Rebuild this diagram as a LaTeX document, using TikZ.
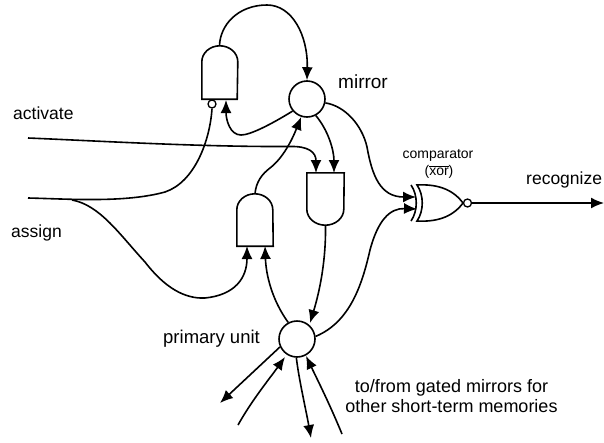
\documentclass[tikz,border=0pt]{standalone}
\usepackage{fontspec}
\setmainfont{Liberation Sans}
\usetikzlibrary{arrows.meta}
\newcommand{\andgate}[1]{%
    \draw[gateline] (#1.south west) -- ([yshift=-16pt]#1.north west)
        arc[start angle=180, end angle=0, x radius=18pt, y radius=16pt] -- (#1.south east) -- cycle;}
\newcommand{\andgatedown}[1]{%
    \draw[gateline] (#1.north west) -- ([yshift=16pt]#1.south west)
        arc[start angle=180, end angle=360, x radius=18.5pt, y radius=16pt] -- (#1.north east) -- cycle;}
\begin{document}
\begin{tikzpicture}[x=1pt, y=-1pt,
    gateline/.style={line width=1.6pt},
    wire/.style={line width=1.6pt},
    arrowwire/.style={wire, -{Latex[length=13pt,width=11pt]}},
    unit/.style={circle, draw, line width=1.6pt, minimum size=36pt, inner sep=0pt},
    bubble/.style={circle, draw, line width=1.3pt, minimum size=8pt, inner sep=0pt},
    gatebox/.style={rectangle, minimum width=#1, inner sep=0pt},
    label/.style={font=\fontsize{17.5}{20}\selectfont, inner sep=0pt},
    smalllabel/.style={font=\fontsize{14}{15}\selectfont, inner sep=0pt}]
    \useasboundingbox (0,0) rectangle (604,442);
    % units
    \node[unit] (mirror) at (307,99) {};
    \node[unit] (primary) at (297,339) {};
    % and gates
    \node[gatebox=35pt, minimum height=53pt] (andtop) at (219.5,72.5) {};
    \node[gatebox=37pt, minimum height=52pt] (andright) at (325.5,199) {};
    \node[gatebox=36pt, minimum height=52pt] (andleft) at (255,220) {};
    \andgate{andtop}
    \andgatedown{andright}
    \andgate{andleft}
    \node[bubble] (invert) at (212,104) {};
    % comparator
    \node[rectangle, minimum width=46pt, minimum height=36pt, inner sep=0pt] (xorgate) at (440,203) {};
    \draw[gateline] (417,185) .. controls (424,195) and (424,211) .. (417,221)
        .. controls (435,222) and (452,218) .. (463,203)
        .. controls (452,188) and (435,184) .. (417,185) -- cycle;
    \draw[gateline] (411,185) .. controls (418,195) and (418,211) .. (411,221);
    \node[bubble] (outbubble) at (467.5,203) {};
    % ports
    \coordinate (activatein) at (28,138);
    \coordinate (assignin) at (28,198);
    \coordinate (assignfork) at (72,200);
    \coordinate (recognizeout) at (604,203);
    \coordinate (xorhigh) at (416,197);
    \coordinate (xorlow) at (417,209);
    \coordinate (fanA) at (220,403);
    \coordinate (fanB) at (238,425);
    \coordinate (fanC) at (311,438);
    \coordinate (fanD) at (342,434);
    % wires around the mirror
    \draw[arrowwire] (andtop.north) .. controls (220,25) and (238,5) .. (267,5)
        .. controls (292,5) and (308,35) .. (mirror.north);
    \draw[arrowwire] (mirror.-140) .. controls (270,125) and (250,135) .. (241,135)
        .. controls (230,135) and (226,120) .. (226,100);
    \draw[arrowwire] (andleft.north) .. controls (256,182) and (262,174) .. (270,168)
        .. controls (283,158) and (292,140) .. (mirror.-108);
    \draw[arrowwire] (mirror.-62) .. controls (328,130) and (334,150) .. (334,173);
    \draw[arrowwire] (mirror.-12) .. controls (345,106) and (362,125) .. (367,147)
        .. controls (372,175) and (380,197) .. (xorhigh);
    % inputs
    \draw[arrowwire] (activatein) .. controls (100,141) and (200,147) .. (290,146.5)
        .. controls (308,146) and (316,152) .. (316,173);
    \draw[wire] (assignin) .. controls (70,199) and (125,203) .. (165,192)
        .. controls (195,182) and (210,140) .. (invert.south);
    \draw[arrowwire] (assignfork) .. controls (100,205) and (120,235) .. (145,262)
        .. controls (165,288) and (185,299) .. (205,298)
        .. controls (235,295) and (247,278) .. (247,246);
    % wires around the primary unit
    \draw[arrowwire] (andright.south) .. controls (326,260) and (320,290) .. (310,323);
    \draw[arrowwire] (primary.118) .. controls (272,300) and (266,275) .. (265,246);
    \draw[arrowwire] (primary.8) .. controls (350,322) and (362,285) .. (370,250)
        .. controls (378,220) and (390,208) .. (xorlow);
    \draw[arrowwire] (outbubble.east) -- (recognizeout);
    \draw[arrowwire] (primary.-155) -- (fanA);
    \draw[arrowwire] (fanB) .. controls (252,400) and (270,378) .. (285,357);
    \draw[arrowwire] (primary.-92) .. controls (299,380) and (306,410) .. (fanC);
    \draw[arrowwire] (fanD) .. controls (330,405) and (320,385) .. (306,356);
    % labels
    \node[label, font=\fontsize{19}{20}\selectfont, anchor=west] (mirrorlabel) at (338,82) {mirror};
    \node[label, anchor=west] (activatelabel) at (13,113) {activate};
    \node[label, anchor=west] (assignlabel) at (11,233) {assign};
    \node[label, font=\fontsize{18.5}{20}\selectfont, anchor=west] (primarylabel) at (163,339) {primary unit};
    \node[label, anchor=west] (recognizelabel) at (526,180) {recognize};
    \node[smalllabel] (comparatorlabel) at (438,155) {comparator};
    \node[smalllabel] (xorlabel) at (439,172) {($\overline{\mbox{xor}}$)};
    \node[label, font=\fontsize{18}{20}\selectfont, align=center, anchor=north] (memorylabel) at (451.5,379) {to/from gated mirrors for\\other short-term memories};
  \end{tikzpicture}
\end{document}
